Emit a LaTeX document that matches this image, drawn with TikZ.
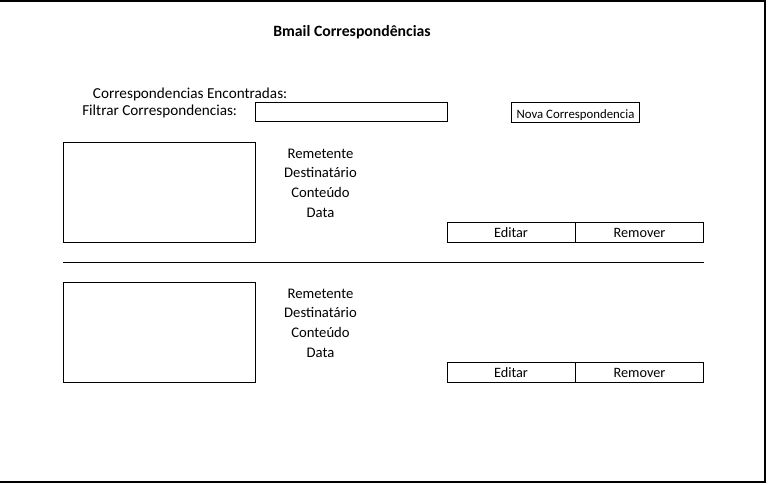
\documentclass[tikz,border=0pt]{standalone}
\usepackage{fontspec}
\setmainfont{Carlito}
\begin{document}
\begin{tikzpicture}[x=0.75pt,y=-0.75pt,
  box/.style={draw=black,line width=0.75pt},
  lbl/.style={inner sep=0pt,anchor=base,font=\fontsize{11}{12}\selectfont},
  lft/.style={inner sep=0pt,anchor=base west,font=\fontsize{11.4}{13}\selectfont},
  btn/.style={draw=black,line width=0.75pt,minimum width=96pt,minimum height=15pt,inner sep=0pt,font=\fontsize{10.7}{12}\selectfont},
  frame/.style={draw=black,line width=1pt}]
\useasboundingbox (0,0) rectangle (768,485);
% outer frame (top, right, bottom)
\coordinate (tl) at (0,1);
\coordinate (tr) at (765,1);
\coordinate (br) at (765,482);
\coordinate (bl) at (0,482);
\draw[frame] (tl) -- (tr) -- (br) -- (bl);
% title
\node[inner sep=0pt,anchor=base,font=\fontsize{11.8}{14}\selectfont\bfseries] (title) at (352,36.7) {Bmail Correspondências};
% header labels
\node[lft] (found) at (92.7,98.3) {Correspondencias Encontradas:};
\node[lft] (filt) at (82,116) {Filtrar Correspondencias:};
\node[box,minimum width=144pt,minimum height=14.25pt,inner sep=0pt] (filterbox) at (351,112.5) {};
\node[box,minimum width=96pt,minimum height=15pt,inner sep=0pt] (newbox) at (575.5,112.5) {};
\node[inner sep=0pt,anchor=base,font=\fontsize{9.6}{11}\selectfont] (newtxt) at (575.5,118.3) {Nova Correspondencia};
% first entry
\node[box,minimum width=144pt,minimum height=75pt,inner sep=0pt] (img1) at (159,192) {};
\node[lbl] (rem1) at (320.5,158.3) {Remetente};
\node[lbl] (dest1) at (320.5,177.3) {Destinatário};
\node[lbl] (cont1) at (320.5,197.3) {Conteúdo};
\node[lbl] (data1) at (320.5,217.7) {Data};
\node[btn] (edit1) at (511,232) {};
\node[btn] (remv1) at (639.5,232) {};
\node[inner sep=0pt,anchor=base,font=\fontsize{10.7}{12}\selectfont] (edit1t) at (511,237.3) {Editar};
\node[inner sep=0pt,anchor=base,font=\fontsize{10.7}{12}\selectfont] (remv1t) at (639.5,237.3) {Remover};
% separator
\coordinate (sepL) at (63,262);
\coordinate (sepR) at (703.5,262);
\draw[line width=0.75pt] (sepL) -- (sepR);
% second entry
\node[box,minimum width=144pt,minimum height=75pt,inner sep=0pt] (img2) at (159,332) {};
\node[lbl] (rem2) at (320.5,298.3) {Remetente};
\node[lbl] (dest2) at (320.5,317.3) {Destinatário};
\node[lbl] (cont2) at (320.5,337.3) {Conteúdo};
\node[lbl] (data2) at (320.5,357.7) {Data};
\node[btn] (edit2) at (511,372) {};
\node[btn] (remv2) at (639.5,372) {};
\node[inner sep=0pt,anchor=base,font=\fontsize{10.7}{12}\selectfont] (edit2t) at (511,377.3) {Editar};
\node[inner sep=0pt,anchor=base,font=\fontsize{10.7}{12}\selectfont] (remv2t) at (639.5,377.3) {Remover};
\end{tikzpicture}
\end{document}
